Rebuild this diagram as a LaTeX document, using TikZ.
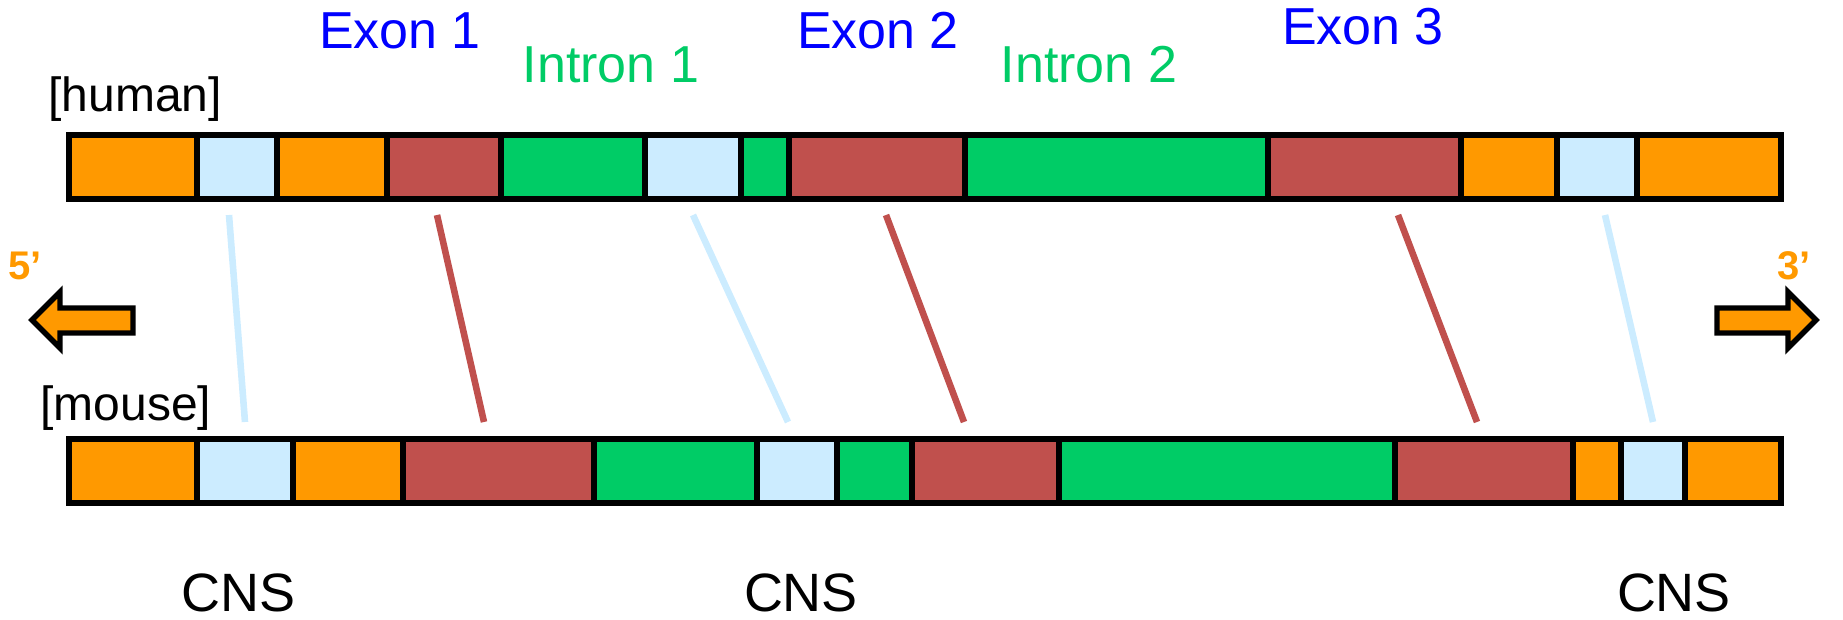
\documentclass[tikz,border=0pt]{standalone}
\usepackage{fontspec}
\setmainfont{Liberation Sans}
\definecolor{segorange}{HTML}{FF9900}
\definecolor{seglblue}{HTML}{CCECFF}
\definecolor{segred}{HTML}{C0504D}
\definecolor{seggreen}{HTML}{00CC66}
\definecolor{exonblue}{HTML}{0000FF}
\newcommand\segm[5]{\node[segbox, fill=#2, minimum width={(#4-#3)*0.5pt}] (#1) at (#3,#5) {};}
\begin{document}
\begin{tikzpicture}[x=0.5pt,y=-0.5pt,
  segbox/.style={draw=black, line width=3pt, inner sep=0pt, outer sep=0pt, anchor=north west, minimum height=32pt},
  conn/.style={line width=3.3pt, line cap=butt},
  exonlbl/.style={text=exonblue, font=\fontsize{26}{31}\selectfont, anchor=base, inner sep=0pt},
  intronlbl/.style={text=seggreen, font=\fontsize{26}{31}\selectfont, anchor=base, inner sep=0pt},
  specieslbl/.style={font=\fontsize{24}{29}\selectfont, anchor=base west, inner sep=0pt},
  cnslbl/.style={font=\fontsize{27}{32}\selectfont, anchor=base, inner sep=0pt},
  primelbl/.style={text=segorange, font=\bfseries\fontsize{20}{24}\selectfont, anchor=base west, inner sep=0pt},
  arrowshape/.style={draw=black, fill=segorange, line width=2.7pt, line join=miter}]
\useasboundingbox (0,0) rectangle (1843,620);
% labels
\node[exonlbl] (e1) at (400,49) {Exon 1};
\node[intronlbl] (i1) at (611,83) {Intron 1};
\node[exonlbl] (e2) at (878,49) {Exon 2};
\node[intronlbl] (i2) at (1089,83) {Intron 2};
\node[exonlbl] (e3) at (1363,45) {Exon 3};
\node[specieslbl] (hum) at (48,112) {[human]};
\node[specieslbl] (mou) at (40,421) {[mouse]};
% human bar
\segm{h1}{segorange}{68.5}{197}{135}
\segm{h2}{seglblue}{197}{277}{135}
\segm{h3}{segorange}{277}{387}{135}
\segm{h4}{segred}{387}{501}{135}
\segm{h5}{seggreen}{501}{645}{135}
\segm{h6}{seglblue}{645}{741}{135}
\segm{h7}{seggreen}{741}{789}{135}
\segm{h8}{segred}{789}{965}{135}
\segm{h9}{seggreen}{965}{1268}{135}
\segm{h10}{segred}{1268}{1461}{135}
\segm{h11}{segorange}{1461}{1557}{135}
\segm{h12}{seglblue}{1557}{1637}{135}
\segm{h13}{segorange}{1637}{1781}{135}
% mouse bar
\segm{m1}{segorange}{68.5}{197}{439}
\segm{m2}{seglblue}{197}{293}{439}
\segm{m3}{segorange}{293}{403}{439}
\segm{m4}{segred}{403}{594}{439}
\segm{m5}{seggreen}{594}{757}{439}
\segm{m6}{seglblue}{757}{837}{439}
\segm{m7}{seggreen}{837}{912}{439}
\segm{m8}{segred}{912}{1059}{439}
\segm{m9}{seggreen}{1059}{1395}{439}
\segm{m10}{segred}{1395}{1573}{439}
\segm{m11}{segorange}{1573}{1621}{439}
\segm{m12}{seglblue}{1621}{1685}{439}
\segm{m13}{segorange}{1685}{1781}{439}
% connector ends
\coordinate (c1t) at (229,215); \coordinate (c1b) at (245,422);
\coordinate (c2t) at (437,215); \coordinate (c2b) at (484,422);
\coordinate (c3t) at (693,215); \coordinate (c3b) at (788,422);
\coordinate (c4t) at (886,215); \coordinate (c4b) at (964,422);
\coordinate (c5t) at (1398,215); \coordinate (c5b) at (1477,422);
\coordinate (c6t) at (1605,215); \coordinate (c6b) at (1653,422);
\draw[conn, seglblue] (c1t) -- (c1b);
\draw[conn, segred] (c2t) -- (c2b);
\draw[conn, seglblue] (c3t) -- (c3b);
\draw[conn, segred] (c4t) -- (c4b);
\draw[conn, segred] (c5t) -- (c5b);
\draw[conn, seglblue] (c6t) -- (c6b);
% direction arrows
\draw[arrowshape] (32,320) -- (60,292) -- (60,308) -- (133,308) -- (133,333) -- (60,333) -- (60,348) -- cycle;
\draw[arrowshape] (1717,308) -- (1788,308) -- (1788,292) -- (1816,320) -- (1788,348) -- (1788,333) -- (1717,333) -- cycle;
\node[primelbl] (p5) at (8,280) {5’};
\node[primelbl] (p3) at (1777,280) {3’};
% CNS labels
\node[cnslbl] (cns1) at (239,611) {CNS};
\node[cnslbl] (cns2) at (801,611) {CNS};
\node[cnslbl] (cns3) at (1674,611) {CNS};
\end{tikzpicture}
\end{document}
